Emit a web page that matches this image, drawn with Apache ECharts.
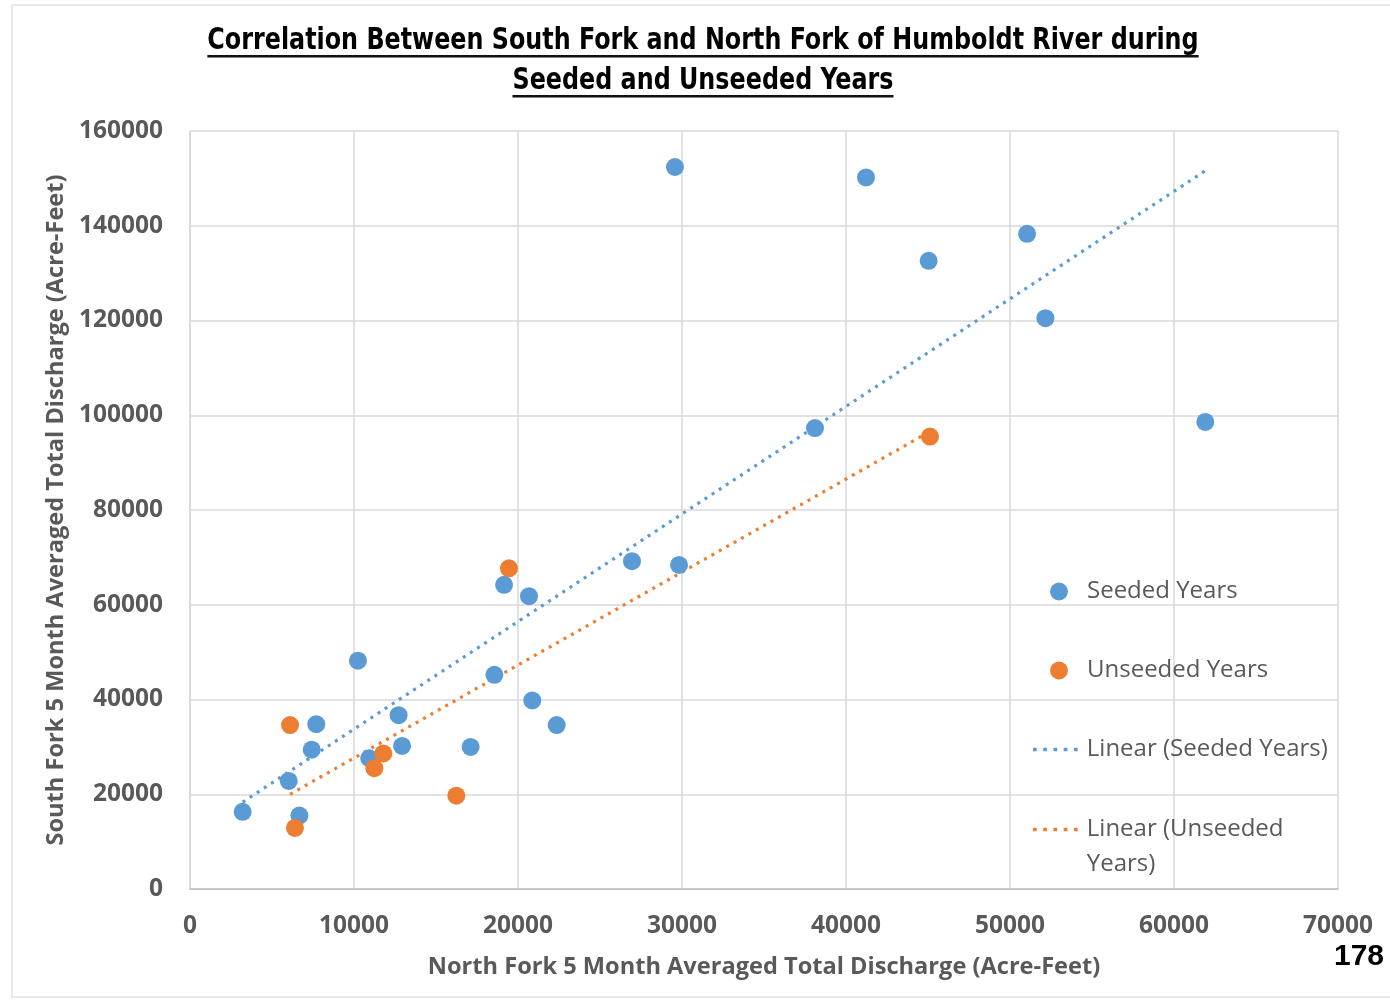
<!DOCTYPE html>
<html>
<head>
<meta charset="utf-8">
<script src="https://cdn.jsdelivr.net/npm/echarts@6/dist/echarts.min.js"></script>
<style>html,body{margin:0;padding:0;background:#fff}#c{width:1390px;height:1000px}</style>
</head>
<body>
<div id="c"></div>
<script>
// Data
var seededX = [29570, 41220, 51040, 45040, 52160, 61910, 38110, 26950, 29820, 19150, 20670, 10240, 18560, 20870, 22360, 7700, 12720, 7420, 12930, 17110, 10930, 6020, 3210, 6670];
var seededY = [152400, 150200, 138300, 132600, 120500, 98600, 97300, 69200, 68400, 64200, 61800, 48200, 45200, 39800, 34600, 34800, 36700, 29400, 30200, 30000, 27600, 22800, 16300, 15500];
var unseededX = [19450, 45120, 6100, 11790, 11240, 16240, 6400];
var unseededY = [67700, 95500, 34600, 28600, 25500, 19700, 12900];
var xTicks = [0, 10000, 20000, 30000, 40000, 50000, 60000, 70000];
var yTicks = [0, 20000, 40000, 60000, 80000, 100000, 120000, 140000, 160000];
var seriesNames = ['Seeded Years', 'Unseeded Years', 'Linear (Seeded Years)', 'Linear (Unseeded Years)'];
var titleLines = ['Correlation Between South Fork and North Fork of Humboldt River during', 'Seeded and Unseeded Years'];
var xName = 'North Fork 5 Month Averaged Total Discharge (Acre-Feet)';
var yName = 'South Fork 5 Month Averaged Total Discharge (Acre-Feet)';
var pageNumber = '178';

function pairs(xs, ys) { return xs.map(function (x, i) { return [x, ys[i]]; }); }
// Least-squares trendline (as Excel's "Linear" trendline), spanning the data's x range
function trend(xs, ys) {
  var n = xs.length, mx = 0, my = 0, sxy = 0, sxx = 0;
  for (var i = 0; i < n; i++) { mx += xs[i]; my += ys[i]; }
  mx /= n; my /= n;
  for (var j = 0; j < n; j++) { sxy += (xs[j] - mx) * (ys[j] - my); sxx += (xs[j] - mx) * (xs[j] - mx); }
  var b = sxy / sxx, a = my - b * mx;
  var x0 = Math.min.apply(null, xs), x1 = Math.max.apply(null, xs);
  return [[x0, a + b * x0], [x1, a + b * x1]];
}

var BLUE = '#5B9BD5', ORANGE = '#ED7D31', TXT = '#595959', GRID = '#D9D9D9';
var FONT = "'Open Sans', 'Noto Sans', sans-serif";
var TITLE_FONT = "bold 26.5px 'DejaVu Sans Condensed', 'Open Sans', sans-serif";
var DOTS = 'path://M0,0h3.4v3.4h-3.4z M9.4,0h3.4v3.4h-3.4z M18.8,0h3.4v3.4h-3.4z M28.2,0h3.4v3.4h-3.4z M37.6,0h3.4v3.4h-3.4z';

// measure title lines for underlines
var mctx = document.createElement('canvas').getContext('2d');
mctx.font = TITLE_FONT;
var TCX = 703, titleY = [41, 81], SY = 1.14;
var titleGraphics = [];
titleLines.forEach(function (t, i) {
  var w = mctx.measureText(t).width;
  titleGraphics.push({ type: 'text', x: TCX, y: titleY[i], scaleY: SY, style: { text: t, font: TITLE_FONT, fill: '#000', textAlign: 'center', textVerticalAlign: 'middle' }, silent: true });
  titleGraphics.push({ type: 'rect', shape: { x: TCX - w / 2, y: titleY[i] + 14, width: w, height: 2.4 }, style: { fill: '#111' }, silent: true });
});

function legendBox(name, icon, w, h, top, left, padLeft) {
  return {
    orient: 'vertical', left: left, top: top, itemWidth: w, itemHeight: h,
    data: [{ name: name, icon: icon }],
    // the wrapped entry keeps its first line level with the icon (Excel style)
    formatter: function (n) { return n === seriesNames[3] ? '\nLinear (Unseeded\nYears)' : n; },
    textStyle: { fontFamily: FONT, fontSize: 24, color: TXT, lineHeight: 35, padding: [0, 0, 0, padLeft] }
  };
}

var chart = echarts.init(document.getElementById('c'), null, { renderer: 'canvas' });
var option = {
  backgroundColor: '#ffffff',
  animation: false,
  grid: { left: 190, right: 52, top: 131, bottom: 111 },
  xAxis: {
    type: 'value', min: 0, max: 70000, interval: 10000,
    name: xName, nameLocation: 'middle', nameGap: 66,
    nameTextStyle: { fontFamily: FONT, fontWeight: 'bold', fontSize: 23.6, color: TXT },
    axisLine: { show: true, lineStyle: { color: '#BFBFBF', width: 1.5 } },
    axisTick: { show: false },
    axisLabel: { fontFamily: FONT, fontWeight: 'bold', fontSize: 24.5, color: TXT, margin: 25, formatter: function (v) { return xTicks.indexOf(v) >= 0 ? String(v) : ''; } },
    splitLine: { show: true, lineStyle: { color: GRID, width: 1.5 } }
  },
  yAxis: {
    type: 'value', min: 0, max: 160000, interval: 20000,
    name: yName, nameLocation: 'middle', nameGap: 122,
    nameTextStyle: { fontFamily: FONT, fontWeight: 'bold', fontSize: 23.6, color: TXT },
    axisLine: { show: true, lineStyle: { color: GRID, width: 1.5 } },
    axisTick: { show: false },
    axisLabel: { fontFamily: FONT, fontWeight: 'bold', fontSize: 24.5, color: TXT, margin: 27, formatter: function (v) { return yTicks.indexOf(v) >= 0 ? String(v) : ''; } },
    splitLine: { show: true, lineStyle: { color: GRID, width: 1.5 } }
  },
  legend: [
    legendBox(seriesNames[0], 'circle', 18, 18, 569, 1045, 14),
    legendBox(seriesNames[1], 'circle', 18, 18, 648, 1045, 14),
    legendBox(seriesNames[2], DOTS, 45, 3.7, 727, 1028, 4),
    legendBox(seriesNames[3], DOTS, 45, 3.7, 772, 1028, 4)
  ],
  series: [
    { name: seriesNames[0], type: 'scatter', data: pairs(seededX, seededY), symbolSize: 18, itemStyle: { color: BLUE, opacity: 1 }, z: 3 },
    { name: seriesNames[1], type: 'scatter', data: pairs(unseededX, unseededY), symbolSize: 18, itemStyle: { color: ORANGE, opacity: 1 }, z: 4 },
    { name: seriesNames[2], type: 'line', data: trend(seededX, seededY), showSymbol: false, symbol: 'none', lineStyle: { color: BLUE, width: 3.2, type: [3, 5.5] }, itemStyle: { color: BLUE }, z: 2 },
    { name: seriesNames[3], type: 'line', data: trend(unseededX, unseededY), showSymbol: false, symbol: 'none', lineStyle: { color: ORANGE, width: 3.2, type: [3, 5.5] }, itemStyle: { color: ORANGE }, z: 2 }
  ],
  graphic: titleGraphics.concat([
    { type: 'rect', shape: { x: 12, y: 5, width: 1390, height: 992 }, style: { fill: 'none', stroke: '#E3E3E3', lineWidth: 1.5 }, silent: true, z: -1 },
    { type: 'text', right: 6, top: 942, style: { text: pageNumber, font: "bold 30px 'Liberation Sans', Arial, sans-serif", fill: '#000' } }
  ])
};
chart.setOption(option);
</script>
</body>
</html>
